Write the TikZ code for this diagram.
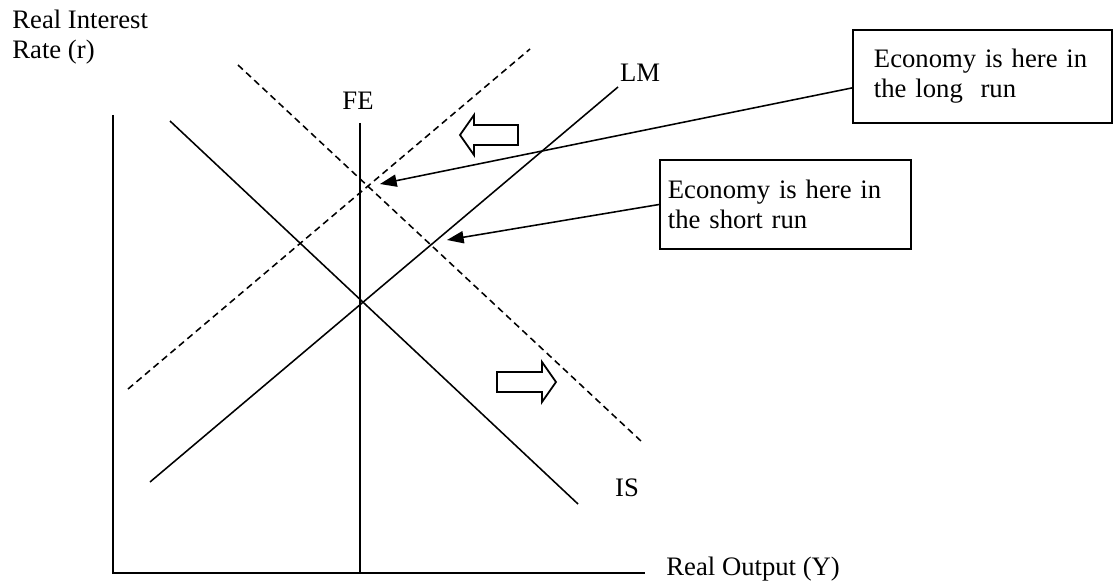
\documentclass[tikz,border=0pt]{standalone}
\usepackage{fontspec}
\setmainfont{Liberation Serif}
\usetikzlibrary{arrows.meta}
\tikzset{
  curve/.style={
    line width=0.7pt,
    draw=black,
  },
  shifted curve/.style={
    curve,
    dash pattern=on 3pt off 2pt,
  },
  axis line/.style={
    line width=0.9pt,
  },
  curve label/.style={
    inner sep=0pt,
  },
  callout/.style={
    rectangle,
    draw=black,
    line width=0.8pt,
    align=left,
    inner ysep=0pt,
  },
  pointer/.style={
    -{Triangle[length=7.5pt,width=5.5pt]},
    line width=0.7pt,
  },
  shift arrow/.style={
    draw=black,
    fill=white,
    line width=0.8pt,
    line join=miter,
  },
}

\begin{document}
\begin{tikzpicture}[x=0.45pt,y=-0.45pt,font=\fontsize{12pt}{13.5pt}\selectfont]
  \useasboundingbox (0,0) rectangle (1115,581);

  % Axes.
  \coordinate (ytop) at (113,115);
  \coordinate (xend) at (645,573);
  \draw[axis line] (ytop) |- (xend);
  \node[curve label, anchor=north west, align=left] (ylabel) at (12,10) {Real Interest\\Rate (r)};
  \node[curve label, anchor=base west] (xlabel) at (666,575) {Real Output (Y)};

  % Full employment line.
  \coordinate (fetop) at (360,123);
  \coordinate (febot) at (360,573);
  \draw[curve] (fetop) -- (febot);
  \node[curve label] (felabel) at (358,101) {FE};

  % Original IS and LM curves.
  \coordinate (is1) at (170,121);
  \coordinate (is2) at (578,504);
  \coordinate (lm1) at (150,482);
  \coordinate (lm2) at (618,87);
  \draw[curve] (is1) -- (is2);
  \draw[curve] (lm1) -- (lm2);
  \node[curve label] (islabel) at (627,488) {IS};
  \node[curve label] (lmlabel) at (640,73) {LM};

  % Shifted curves.
  \coordinate (isshift1) at (238,65);
  \coordinate (isshift2) at (642,442);
  \coordinate (lmshift1) at (128,389);
  \coordinate (lmshift2) at (530,49);
  \draw[shifted curve] (isshift1) -- (isshift2);
  \draw[shifted curve] (lmshift1) -- (lmshift2);

  % Direction of the shifts.
  \coordinate (lmtip) at (460,135);
  \draw[shift arrow] (lmtip) -- ++(14,-20) -- ++(0,10) -- ++(44,0) -- ++(0,20)
    -- ++(-44,0) -- ++(0,10) -- cycle;
  \coordinate (istip) at (556,382);
  \draw[shift arrow] (istip) -- ++(-14,-20) -- ++(0,10) -- ++(-45,0) -- ++(0,20)
    -- ++(45,0) -- ++(0,10) -- cycle;

  % Callouts.
  \node[callout, minimum width=116.6pt, minimum height=41.9pt, inner xsep=9.45pt,
    text width=97.7pt] (longbox) at (982.5,76.5) {Economy is here in\\the long\ \ run};
  \node[callout, minimum width=113pt, minimum height=40pt, inner xsep=3.6pt,
    text width=105.8pt] (shortbox) at (785.5,204.5) {Economy is here in\\the short run};
  \coordinate (longrun) at (380,184);
  \coordinate (shortrun) at (447,240);
  \draw[pointer] (longbox.185) -- (longrun);
  \draw[pointer] (shortbox.west) -- (shortrun);
\end{tikzpicture}
\end{document}
